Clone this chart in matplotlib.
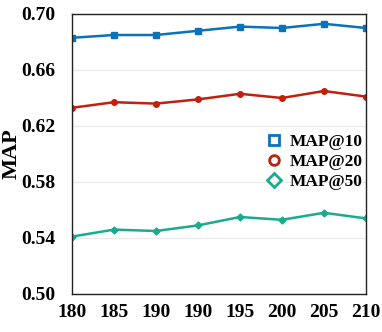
import numpy as np
import matplotlib.pyplot as plt
from matplotlib.lines import Line2D

x_labels = ['180', '185', '190', '190', '195', '200', '205', '210']
map10 = [0.683, 0.685, 0.685, 0.688, 0.691, 0.690, 0.693, 0.690]
map20 = [0.633, 0.637, 0.636, 0.639, 0.643, 0.640, 0.645, 0.641]
map50 = [0.541, 0.546, 0.545, 0.549, 0.555, 0.553, 0.558, 0.554]

blue = '#0A72BA'
red = '#C0200E'
green = '#18AC8E'

plt.rcParams['font.family'] = ['Liberation Serif', 'DejaVu Serif']
plt.rcParams['font.weight'] = 'bold'

fig = plt.figure(figsize=(3.82, 3.32), dpi=100)
ax = fig.add_axes([72/382, 1 - 294/332, 294/382, 280/332])

ind = np.arange(len(x_labels))
ax.plot(ind, map10, color=blue, lw=1.8, marker='s', ms=4)
ax.plot(ind, map20, color=red, lw=1.8, marker='o', ms=4)
ax.plot(ind, map50, color=green, lw=1.8, marker='D', ms=3.5)

ax.set_xlim(0, len(x_labels) - 1)
ax.set_ylim(0.50, 0.70)
ax.set_yticks([0.50, 0.54, 0.58, 0.62, 0.66, 0.70])
ax.set_yticklabels(['0.50', '0.54', '0.58', '0.62', '0.66', '0.70'])
ax.set_xticks(ind)
ax.set_xticklabels(x_labels)
ax.tick_params(labelsize=14, length=0)
ax.tick_params(axis='y', pad=12)
ax.tick_params(axis='x', pad=7)
for lab in ax.get_xticklabels() + ax.get_yticklabels():
    lab.set_fontweight('bold')
ax.grid(axis='y', color='#EBEBEB', lw=1)
ax.set_axisbelow(True)
for s in ax.spines.values():
    s.set_color('#222222')
    s.set_linewidth(1)
ax.set_ylabel('MAP', fontsize=16, fontweight='bold')
ax.yaxis.set_label_coords(-50/294, 0.5)

handles = [
    Line2D([], [], ls='none', marker='s', ms=7, mfc='none', mec=blue, mew=2),
    Line2D([], [], ls='none', marker='o', ms=7, mfc='none', mec=red, mew=2),
    Line2D([], [], ls='none', marker='D', ms=7, mfc='none', mec=green, mew=2),
]
ax.legend(handles, ['MAP@10', 'MAP@20', 'MAP@50'], loc='center left',
          bbox_to_anchor=(186/294, 132/280), frameon=False, handlelength=0.8,
          handletextpad=0.5, labelspacing=0.2, borderpad=0,
          prop={'size': 12.5, 'weight': 'bold'})

fig.savefig('out.png', dpi=100)
